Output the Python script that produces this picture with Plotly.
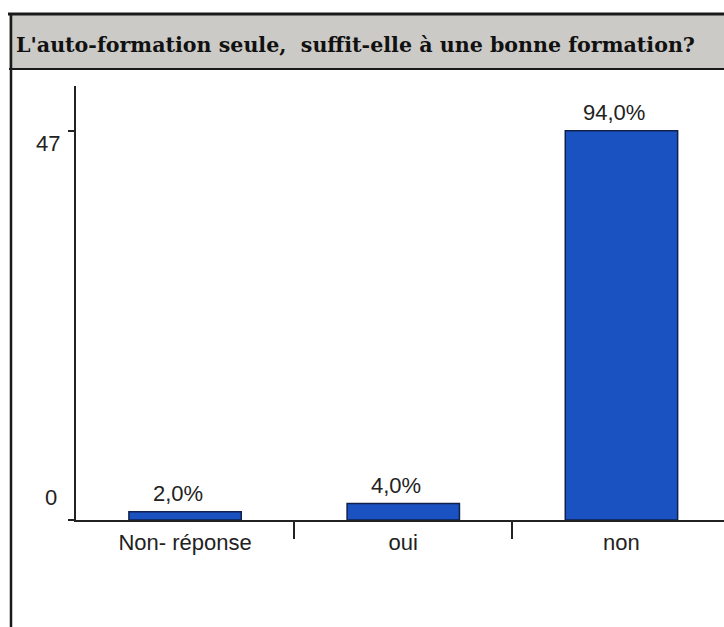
import plotly.graph_objects as go

# Survey answers: number of respondents per answer (n = 50)
categories = ["Non- réponse", "oui", "non"]
counts = [1, 2, 47]
total = 50
y_ticks = [0, 47]

title_text = "L'auto-formation seule,  suffit-elle à une bonne formation?"

W, H = 724, 627
ML, MR, MT, MB = 76, 0, 86, 107
plot_w = W - ML - MR
plot_h = H - MT - MB


def px_x(px):
    return (px - ML) / plot_w


def px_y(py):
    return (H - MB - py) / plot_h


pct_labels = [f"{c / total * 100:.1f}%".replace(".", ",") for c in counts]

fig = go.Figure()
fig.add_trace(go.Bar(
    x=categories,
    y=counts,
    marker=dict(color="#1b52c2", line=dict(color="#10204a", width=1.5)),
    width=0.515,
    hoverinfo="skip",
))

# a tick-only axis overlaid on the category axis, ticks on category boundaries
fig.add_trace(go.Scatter(x=[0], y=[0], xaxis="x2", yaxis="y",
                         mode="markers", marker=dict(opacity=0),
                         hoverinfo="skip", showlegend=False))

font = dict(family="Liberation Sans, Arial, sans-serif", size=22, color="#222222")

annotations = []
for cat, c, lab in zip(categories, counts, pct_labels):
    annotations.append(dict(x=cat, y=c, xref="x", yref="y", text=lab,
                            showarrow=False, font=font, yshift=18, xshift=-7))

# y tick labels
annotations.append(dict(x=px_x(34), y=47, xref="paper", yref="y", text="47",
                        showarrow=False, font=font, yshift=-13))
annotations.append(dict(x=px_x(43), y=0, xref="paper", yref="y", text="0",
                        showarrow=False, font=font, yshift=23))

# heading
annotations.append(dict(x=px_x(14), y=px_y(45), xref="paper", yref="paper",
                        text="<b>" + title_text + "</b>", showarrow=False,
                        xanchor="left", yanchor="middle",
                        font=dict(family="DejaVu Serif, serif",
                                  size=20.6, color="#111111")))

shapes = [
    # heading band
    dict(type="rect", xref="paper", yref="paper",
         x0=px_x(9), x1=px_x(730), y0=px_y(69), y1=px_y(14),
         fillcolor="#cbcac6", line=dict(width=0), layer="below"),
    dict(type="line", xref="paper", yref="paper",
         x0=px_x(8), x1=px_x(730), y0=px_y(14), y1=px_y(14),
         line=dict(color="#1a1a1a", width=3)),
    dict(type="line", xref="paper", yref="paper",
         x0=px_x(9), x1=px_x(730), y0=px_y(69), y1=px_y(69),
         line=dict(color="#1a1a1a", width=2)),
    # frame left edge
    dict(type="line", xref="paper", yref="paper",
         x0=px_x(11), x1=px_x(11), y0=px_y(13), y1=px_y(640),
         line=dict(color="#1a1a1a", width=2.5)),
]

fig.update_layout(
    width=W, height=H,
    margin=dict(l=ML, r=MR, t=MT, b=MB, pad=0),
    paper_bgcolor="white", plot_bgcolor="white",
    showlegend=False,
    annotations=annotations,
    shapes=shapes,
    xaxis=dict(
        type="category", range=[-0.5, 2.47],
        showline=True, linecolor="#222222", linewidth=1.5,
        ticks="", showgrid=False, zeroline=False,
        tickfont=font, ticklabelstandoff=2,
    ),
    xaxis2=dict(
        overlaying="x", anchor="y", side="bottom", type="linear",
        range=[-0.5, 2.47], tickvals=[0.5, 1.5],
        ticks="outside", ticklen=18, tickwidth=1.5, tickcolor="#222222",
        showticklabels=False, showgrid=False, zeroline=False, showline=False,
    ),
    yaxis=dict(
        range=[0, 52.4], tickvals=y_ticks,
        showline=True, linecolor="#222222", linewidth=1.5,
        ticks="outside", ticklen=6, tickwidth=1.5, tickcolor="#222222",
        showticklabels=False, showgrid=False, zeroline=False,
    ),
)

fig.write_html("out.html")
